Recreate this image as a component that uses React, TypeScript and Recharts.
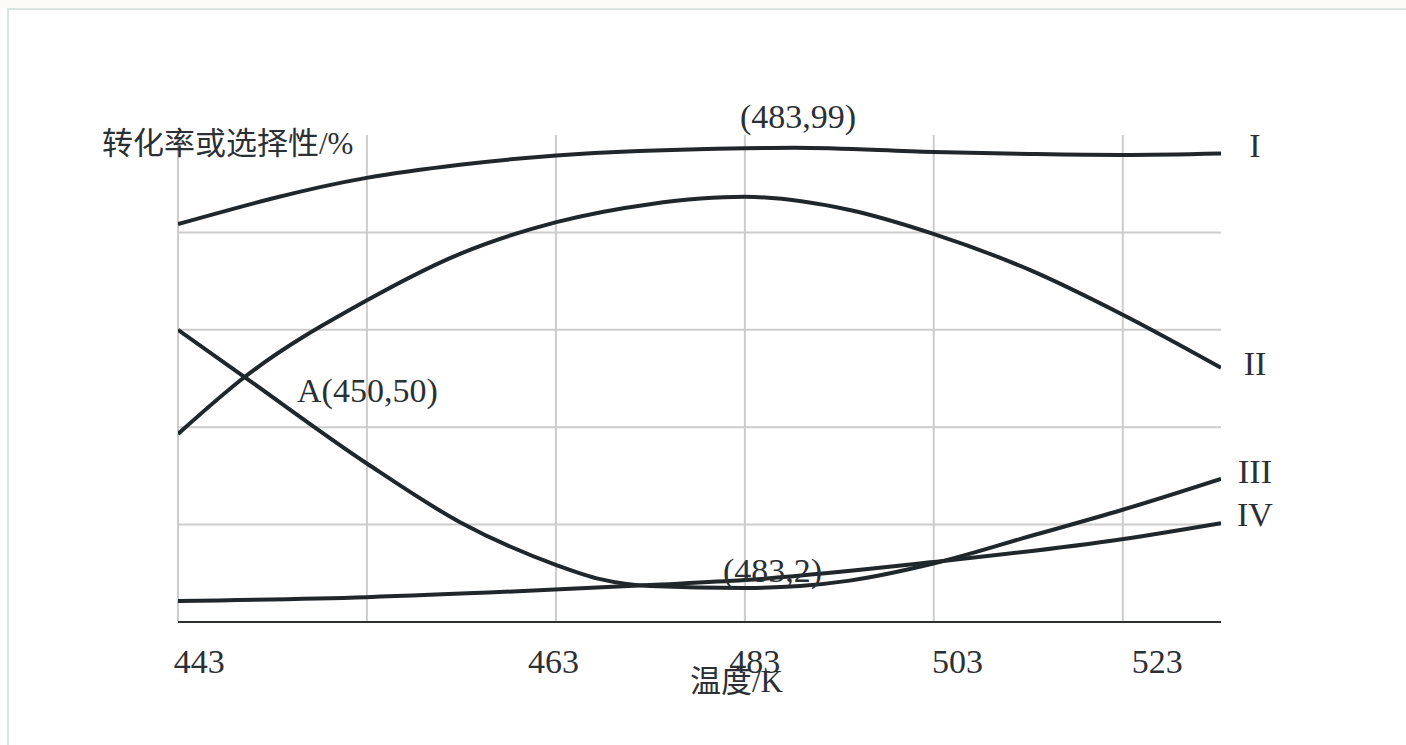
import React from 'react';
import { LineChart, Line, XAxis, YAxis, CartesianGrid } from 'recharts';

// x in K, y in %
const tempsI = [443, 456.3, 462.9, 469.7, 483, 486.5, 496.3, 503.1, 509.6, 516.6];
const valuesI = [81.7, 91.2, 93.9, 95.8, 97.3, 97.4, 96.5, 96.1, 95.9, 96.2];

const tempsII = [443, 447.7, 456.3, 462.9, 469.7, 476.3, 483, 490.4, 496.3, 503.1, 509.6, 516.6];
const valuesII = [38.6, 50.3, 66.0, 75.6, 82.1, 85.8, 87.3, 84.6, 79.7, 72.3, 63.2, 52.2];

const tempsIII = [443, 447.7, 456.3, 462.9, 469.7, 472.8, 476.3, 483, 486.9, 490.4, 496.3, 503.1, 509.6, 516.6];
const valuesIII = [60.0, 50.3, 32.6, 20.5, 11.7, 8.8, 7.4, 7.0, 7.4, 8.5, 12.0, 17.6, 23.0, 29.4];

const tempsIV = [443, 456.3, 469.2, 476.3, 483, 496.3, 509.6, 516.6];
const valuesIV = [4.3, 5.1, 6.6, 7.6, 8.6, 12.3, 17.0, 20.3];

const xDomain = [443, 516.6];
const yDomain = [0, 100];
const gridTemps = [443, 456.33, 469.67, 483, 496.33, 509.67];
const gridValues = [0, 20, 40, 60, 80];
const xTickTemps = [444.5, 469.5, 483.7, 498.0, 512.1];
const xTickLabels = ['443', '463', '483', '503', '523'];

const toPts = (ts: number[], vs: number[]) => ts.map((t, i) => ({ t, v: vs[i] }));
const dataI = toPts(tempsI, valuesI);
const dataII = toPts(tempsII, valuesII);
const dataIII = toPts(tempsIII, valuesIII);
const dataIV = toPts(tempsIV, valuesIV);

const SERIF = '"Liberation Serif", "Noto Sans CJK SC", serif';
const LINE = '#1f272b';
const TEXT = '#2b3034';

const Tick = (props: any) => {
  const { x, y, index } = props;
  return (
    <text x={x} y={y + 51} textAnchor="middle" fontFamily={SERIF} fontSize={34} fill={TEXT}>
      {xTickLabels[index]}
    </text>
  );
};

export default function App() {
  const vGen = (p: any) => {
    const { offset } = p;
    return gridTemps.map(
      (t) => offset.left + ((t - xDomain[0]) / (xDomain[1] - xDomain[0])) * offset.width
    );
  };
  const hGen = (p: any) => {
    const { offset } = p;
    return gridValues.map(
      (v) => offset.top + offset.height - ((v - yDomain[0]) / (yDomain[1] - yDomain[0])) * offset.height
    );
  };
  return (
    <div style={{ position: 'absolute', left: 0, top: 0, width: 1406, height: 745, background: '#ffffff', overflow: 'hidden' }}>
      <div style={{ position: 'absolute', left: 0, top: 0, width: 1406, height: 8, background: '#fdfbf6' }} />
      <div style={{ position: 'absolute', left: 7, top: 8, width: 1406, height: 745, borderTop: '2px solid #d9e4df', borderLeft: '2px solid #d9e4df', boxSizing: 'border-box' }} />
      <div style={{ position: 'absolute', left: 0, top: 0 }}>
        <LineChart width={1406} height={745} margin={{ left: 178, right: 185, top: 135, bottom: 63 }}>
          <CartesianGrid
            stroke="#cccccc"
            strokeWidth={2}
            verticalCoordinatesGenerator={vGen}
            horizontalCoordinatesGenerator={hGen}
          />
          <XAxis
            dataKey="t"
            type="number"
            domain={xDomain}
            ticks={xTickTemps}
            allowDataOverflow
            height={60}
            axisLine={{ stroke: '#2b3034', strokeWidth: 2 }}
            tickLine={false}
            tickSize={0}
            tickMargin={0}
            tick={<Tick />}
            interval={0}
          />
          <YAxis
            type="number"
            domain={yDomain}
            ticks={gridValues}
            width={0}
            tick={false}
            tickLine={false}
            axisLine={{ stroke: '#2b3034', strokeWidth: 2 }}
          />
          <Line data={dataI} dataKey="v" type="monotone" stroke={LINE} strokeWidth={4} dot={false} isAnimationActive={false} />
          <Line data={dataII} dataKey="v" type="monotone" stroke={LINE} strokeWidth={4} dot={false} isAnimationActive={false} />
          <Line data={dataIII} dataKey="v" type="monotone" stroke={LINE} strokeWidth={4} dot={false} isAnimationActive={false} />
          <Line data={dataIV} dataKey="v" type="monotone" stroke={LINE} strokeWidth={4} dot={false} isAnimationActive={false} />
        </LineChart>
      </div>
      <svg width={1406} height={745} style={{ position: 'absolute', left: 0, top: 0, pointerEvents: 'none' }}>
        <g fontFamily={SERIF} fill={TEXT}>
          <text x={102} y={154} fontSize={31}>转化率或选择性/%</text>
          <text x={690} y={692} fontSize={31}>温度/K</text>
          <text x={740} y={128} fontSize={34}>(483,99)</text>
          <text x={297} y={402} fontSize={34}>A(450,50)</text>
          <text x={723} y={582} fontSize={34}>(483,2)</text>
          <text x={1255} y={157} fontSize={34} textAnchor="middle">I</text>
          <text x={1255} y={375} fontSize={34} textAnchor="middle">II</text>
          <text x={1255} y={483} fontSize={34} textAnchor="middle">III</text>
          <text x={1255} y={526} fontSize={34} textAnchor="middle">IV</text>
        </g>
      </svg>
    </div>
  );
}
